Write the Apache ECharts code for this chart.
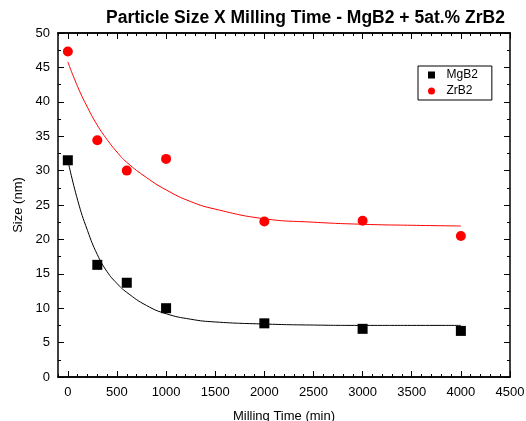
<!DOCTYPE html>
<html>
<head>
<meta charset="utf-8">
<script src="https://cdn.jsdelivr.net/npm/echarts@6/dist/echarts.min.js"></script>
<style>
  html, body { margin: 0; padding: 0; background: #fff; }
  #chart { width: 526px; height: 421px; }
</style>
</head>
<body>
<div id="chart"></div>
<script>
// measured points
var times = [0, 300, 600, 1000, 2000, 3000, 4000]
var mgb2Size = [31.5, 16.3, 13.7, 10.0, 7.8, 7.0, 6.7]
var zrb2Size = [47.3, 34.4, 30.0, 31.7, 22.6, 22.7, 20.5]

// fit curves
var fitTimes = [0, 100, 200, 300, 400, 500, 600, 800, 1000, 1250, 1500, 2000, 2500, 3000, 3500, 4000]
var mgb2Fit = [31.5, 25.7, 21.3, 17.8, 15.3, 13.6, 12.3, 10.4, 9.2, 8.4, 8.0, 7.7, 7.55, 7.5, 7.5, 7.5]
var zrb2Fit = [45.8, 42.2, 39.2, 36.6, 34.5, 32.7, 31.2, 29.0, 27.2, 25.5, 24.4, 23.0, 22.5, 22.2, 22.05, 21.95]

var xMajor = [0, 500, 1000, 1500, 2000, 2500, 3000, 3500, 4000, 4500]
var xMinor = []
for (var t = -100; t <= 4500; t += 100) xMinor.push(t)

var font = 'Liberation Sans, Arial, sans-serif'

function pairs(xs, ys) {
  return xs.map(function (x, i) { return [x, ys[i]] })
}

function xAxisDef(pos, ticks, len, labels) {
  return {
    type: 'value', position: pos, min: -100, max: 4500,
    axisLine: { show: true, onZero: false, lineStyle: { color: '#000', width: 1.5 } },
    axisTick: { show: true, inside: true, length: len, customValues: ticks, lineStyle: { color: '#000', width: 1 } },
    axisLabel: labels ? {
      customValues: xMajor, color: '#000', fontSize: 13, fontFamily: font, margin: 9,
      formatter: function (v) { return String(v) }
    } : { show: false },
    splitLine: { show: false }
  }
}

function yAxisDef(pos, labels) {
  return {
    type: 'value', position: pos, min: 0, max: 50, interval: 5,
    axisLine: { show: true, onZero: false, lineStyle: { color: '#000', width: 1.5 } },
    axisTick: { show: true, inside: true, length: 6, lineStyle: { color: '#000', width: 1 } },
    minorTick: { show: true, splitNumber: 2, length: 3, lineStyle: { color: '#000', width: 1 } },
    axisLabel: labels ? { color: '#000', fontSize: 13, fontFamily: font, margin: 8 } : { show: false },
    splitLine: { show: false }
  }
}

var chart = echarts.init(document.getElementById('chart'))

var xBottom = xAxisDef('bottom', xMajor, 6, true)
xBottom.name = 'Milling Time (min)'
xBottom.nameLocation = 'middle'
xBottom.nameGap = 33
xBottom.nameTextStyle = { color: '#000', fontSize: 13, fontFamily: font }

var yLeft = yAxisDef('left', true)
yLeft.name = 'Size (nm)'
yLeft.nameLocation = 'middle'
yLeft.nameGap = 32
yLeft.nameTextStyle = { color: '#000', fontSize: 13, fontFamily: font }

chart.setOption({
  backgroundColor: '#fff',
  animation: false,
  title: {
    text: 'Particle Size X Milling Time - MgB2 + 5at.% ZrB2',
    left: 101, top: 4,
    textStyle: { fontSize: 17.5, fontWeight: 'bold', color: '#000', fontFamily: font }
  },
  legend: {
    orient: 'vertical',
    left: 418, top: 66,
    padding: [2, 14, 2, 10],
    itemGap: 2,
    itemWidth: 20, itemHeight: 7,
    borderColor: '#000', borderWidth: 1,
    textStyle: { color: '#000', fontSize: 12, fontFamily: font, lineHeight: 14 },
    data: [
      { name: 'MgB2', icon: 'path://M0,0L10,0L10,10L0,10Z' },
      { name: 'ZrB2', icon: 'circle' }
    ]
  },
  grid: { left: 58, right: 16, top: 33, bottom: 44, outerBoundsMode: 'none', containLabel: false },
  xAxis: [
    xBottom,
    xAxisDef('bottom', xMinor, 3, false),
    xAxisDef('top', xMajor, 6, false),
    xAxisDef('top', xMinor, 3, false)
  ],
  yAxis: [
    yLeft,
    yAxisDef('right', false)
  ],
  series: [
    {
      name: 'MgB2 fit', type: 'line', data: pairs(fitTimes, mgb2Fit),
      smooth: true, showSymbol: false, lineStyle: { color: '#000', width: 1 }, z: 1
    },
    {
      name: 'ZrB2 fit', type: 'line', data: pairs(fitTimes, zrb2Fit),
      smooth: true, showSymbol: false, lineStyle: { color: '#ff0000', width: 1 }, z: 1
    },
    {
      name: 'MgB2', type: 'scatter', data: pairs(times, mgb2Size),
      symbol: 'rect', symbolSize: 10, itemStyle: { color: '#000', opacity: 1 }, z: 3
    },
    {
      name: 'ZrB2', type: 'scatter', data: pairs(times, zrb2Size),
      symbol: 'circle', symbolSize: 10, itemStyle: { color: '#ff0000', opacity: 1 }, z: 3
    }
  ]
})
</script>
</body>
</html>
